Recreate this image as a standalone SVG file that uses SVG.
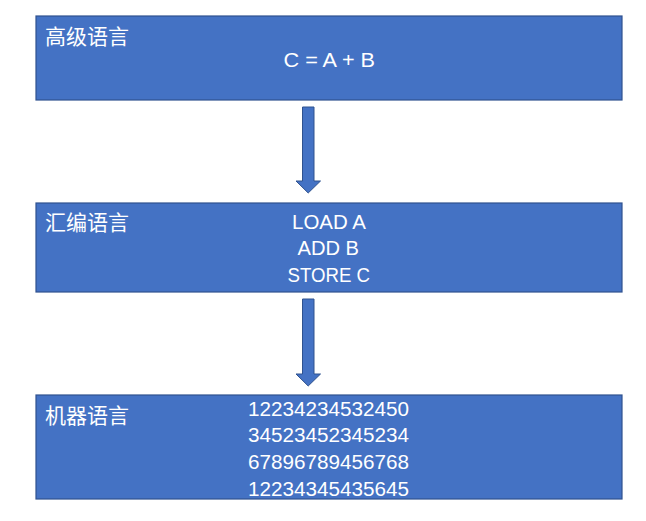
<svg xmlns="http://www.w3.org/2000/svg" width="646" height="521" viewBox="0 0 646 521">
<style>
.box{fill:#4472C4;stroke:#2F528F;stroke-width:1.2}
.lbl{font-family:"Noto Sans CJK SC","Noto Sans",sans-serif;font-size:21px;fill:#fff}
.txt{font-family:"Liberation Sans","Noto Sans",sans-serif;font-size:20.5px;fill:#fff}
.arr{fill:#4472C4;stroke:#2F528F;stroke-width:1}
</style>
<rect width="646" height="521" fill="#fff"/>
<g id="high">
<rect class="box" x="36" y="16" width="586" height="84"/>
<text class="lbl" x="45" y="44">高级语言</text>
<text class="txt" x="283.5" y="67" textLength="91.5" lengthAdjust="spacingAndGlyphs">C = A + B</text>
</g>
<g id="asm">
<rect class="box" x="36" y="203" width="586" height="89"/>
<text class="lbl" x="45" y="230">汇编语言</text>
<text class="txt" x="292" y="229" textLength="74" lengthAdjust="spacingAndGlyphs">LOAD A</text>
<text class="txt" x="297.5" y="255" textLength="61.5" lengthAdjust="spacingAndGlyphs">ADD B</text>
<text class="txt" x="287.5" y="282" textLength="82.5" lengthAdjust="spacingAndGlyphs">STORE C</text>
</g>
<g id="machine">
<rect class="box" x="36" y="395" width="586" height="104"/>
<text class="lbl" x="45" y="423">机器语言</text>
<text class="txt" x="248" y="416" textLength="161" lengthAdjust="spacingAndGlyphs">12234234532450</text>
<text class="txt" x="248" y="442" textLength="161" lengthAdjust="spacingAndGlyphs">34523452345234</text>
<text class="txt" x="248" y="469" textLength="161" lengthAdjust="spacingAndGlyphs">67896789456768</text>
<text class="txt" x="248" y="496" textLength="161" lengthAdjust="spacingAndGlyphs">12234345435645</text>
</g>
<g id="connectors">
<polygon class="arr" points="302.5,107 314,107 314,181 320.5,181 308.2,193 296,181 302.5,181"/>
<polygon class="arr" points="302.5,299 314,299 314,374 320.5,374 308.2,386 296,374 302.5,374"/>
</g>
</svg>
